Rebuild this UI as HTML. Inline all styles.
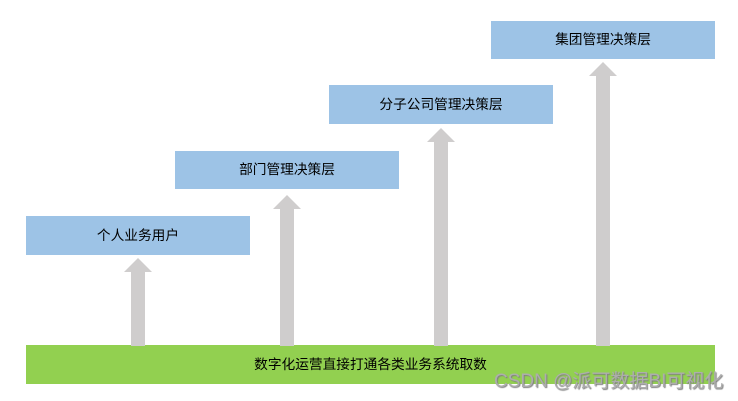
<!DOCTYPE html>
<html lang="zh">
<head>
<meta charset="utf-8">
<style>
html,body{margin:0;padding:0;background:#fff}
body{position:relative;width:738px;height:401px;overflow:hidden;font-family:"Liberation Sans","WenQuanYi Zen Hei","Noto Sans CJK SC",sans-serif}
.b{position:absolute;display:flex;align-items:center;justify-content:center;color:#000;font-size:13.7px;line-height:1;width:224px}
svg{position:absolute;left:0;top:0}
.w{position:absolute;left:494px;top:371px;font-size:19px;line-height:21px;color:#adadad;white-space:nowrap;text-shadow:1px 1px 1px #808080;font-family:"Liberation Sans","Noto Sans CJK SC",sans-serif}
</style>
</head>
<body>
<div class="b" style="left:26px;top:345px;width:689px;height:39px;background:#92d050">数字化运营直接打通各类业务系统取数</div>
<svg width="738" height="401" viewBox="0 0 738 401">
<g fill="#cfcdcd">
<polygon points="138,258 152,272 145,272 145,346 131,346 131,272 124,272"/>
<polygon points="287,195 301,209 294,209 294,346 280,346 280,209 273,209"/>
<polygon points="441,128 455,142 448,142 448,346 434,346 434,142 427,142"/>
<polygon points="603,62 617,76 610,76 610,346 596,346 596,76 589,76"/>
</g>
</svg>
<div class="b" style="left:26px;top:216px;height:39px;background:#9dc3e6">个人业务用户</div>
<div class="b" style="left:175px;top:151px;height:38px;background:#9dc3e6">部门管理决策层</div>
<div class="b" style="left:329px;top:85px;height:39px;background:#9dc3e6">分子公司管理决策层</div>
<div class="b" style="left:491px;top:21px;height:38px;background:#9dc3e6">集团管理决策层</div>
<div class="w">CSDN @派可数据BI可视化</div>
</body>
</html>
